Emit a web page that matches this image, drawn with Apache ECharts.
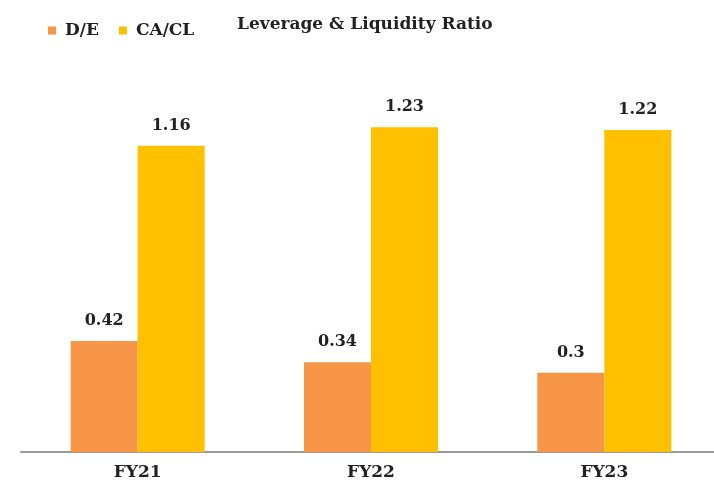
<!DOCTYPE html>
<html>
<head>
<meta charset="utf-8">
<script src="https://cdn.jsdelivr.net/npm/echarts@6/dist/echarts.min.js"></script>
<style>
  html, body { margin: 0; padding: 0; background: #fff; }
  #chart { width: 714px; height: 492px; }
</style>
</head>
<body>
<div id="chart"></div>
<script>
var years = ["FY21", "FY22", "FY23"];
var debtEquity = [0.42, 0.34, 0.3];
var currentRatio = [1.16, 1.23, 1.22];

var fontFam = "DejaVu Serif";
var chart = echarts.init(document.getElementById("chart"));

var labelStyle = {
  show: true,
  position: "top",
  distance: 12,
  fontFamily: fontFam,
  fontWeight: "bold",
  fontSize: 16,
  color: "#222"
};

var option = {
  backgroundColor: "#fff",
  animation: false,
  title: {
    text: "Leverage & Liquidity Ratio",
    left: 232,
    top: 11,
    textStyle: {
      fontFamily: fontFam,
      fontWeight: "bold",
      fontSize: 17,
      color: "#222"
    }
  },
  legend: {
    left: 43,
    top: 17,
    itemWidth: 8,
    itemHeight: 8,
    itemGap: 20,
    icon: "rect",
    textStyle: {
      fontFamily: fontFam,
      fontWeight: "bold",
      fontSize: 17,
      color: "#222",
      padding: [0, 0, 0, 4]
    },
    data: ["D/E", "CA/CL"]
  },
  grid: {
    left: 21,
    top: 56,
    width: 700,
    height: 396,
    outerBoundsMode: "none",
    containLabel: false
  },
  xAxis: {
    type: "category",
    data: years,
    axisLine: { lineStyle: { color: "#9a9a9a", width: 2 } },
    axisTick: { show: false },
    axisLabel: {
      margin: 12,
      fontFamily: fontFam,
      fontWeight: "bold",
      fontSize: 17,
      color: "#222"
    }
  },
  yAxis: {
    type: "value",
    min: 0,
    max: 1.5,
    show: false,
    splitLine: { show: false }
  },
  series: [
    {
      name: "D/E",
      type: "bar",
      data: debtEquity,
      barWidth: 67,
      barGap: "0%",
      itemStyle: { color: "#F79646" },
      label: labelStyle
    },
    {
      name: "CA/CL",
      type: "bar",
      data: currentRatio,
      barWidth: 67,
      barGap: "0%",
      itemStyle: { color: "#FFC000" },
      label: labelStyle
    }
  ]
};
chart.setOption(option);
</script>
</body>
</html>
